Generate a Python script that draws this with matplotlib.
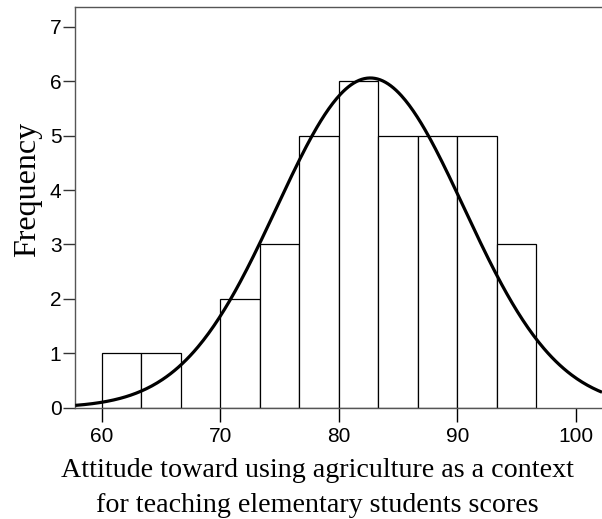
import numpy as np
import matplotlib
matplotlib.use("Agg")
import matplotlib.pyplot as plt

# Data
bin_start = 60.0
bin_width = 10.0 / 3.0
counts = [1, 1, 0, 2, 3, 5, 6, 5, 5, 5, 3]
curve_mean = 82.66
curve_sd = 7.9
n_total = sum(counts)
x_ticks = [60, 70, 80, 90, 100]
y_ticks = [0, 1, 2, 3, 4, 5, 6, 7]
xlabel_lines = ["Attitude toward using agriculture as a context",
                "for teaching elementary students scores"]
ylabel_text = "Frequency"

W, H = 602, 519
fig = plt.figure(figsize=(W / 100, H / 100), dpi=100)
ax = fig.add_axes([75.3 / W, 1 - 407.7 / H, 1 - 75.3 / W, (407.7 - 6.7) / H])

edges = bin_start + bin_width * np.arange(len(counts) + 1)
ax.bar(edges[:-1], counts, width=bin_width, align="edge", facecolor="white",
       edgecolor="black", linewidth=0.9, zorder=2)

xs = np.linspace(57.79, 102.2, 400)
ys = n_total * bin_width / (curve_sd * np.sqrt(2 * np.pi)) * np.exp(-0.5 * ((xs - curve_mean) / curve_sd) ** 2)
ax.plot(xs, ys, color="black", linewidth=2.3, zorder=3, solid_capstyle="butt")

ax.set_xlim(57.79, 102.2)
ax.set_ylim(0, 7.37)
ax.set_xticks(x_ticks)
ax.set_yticks(y_ticks)

ax.spines["right"].set_visible(False)
for s in ["left", "top", "bottom"]:
    ax.spines[s].set_color("#555555")
    ax.spines[s].set_linewidth(1.0)

ax.tick_params(axis="x", length=10, width=1, color="black", labelsize=15, pad=4)
ax.tick_params(axis="y", length=9, width=1, color="#333333", labelsize=15, pad=1)
for lab in ax.get_xticklabels() + ax.get_yticklabels():
    lab.set_family("Liberation Sans")

fig.text(317.5 / W, 1 - 476.7 / H, xlabel_lines[0], family="Liberation Serif",
         fontsize=20.2, ha="center", va="baseline")
fig.text(317.5 / W, 1 - 511.7 / H, xlabel_lines[1], family="Liberation Serif",
         fontsize=20.2, ha="center", va="baseline")
fig.text(35 / W, 1 - 189 / H, ylabel_text, family="Liberation Serif", fontsize=23,
         rotation=90, rotation_mode="anchor", ha="center", va="baseline")

fig.savefig("out.png", dpi=100)
